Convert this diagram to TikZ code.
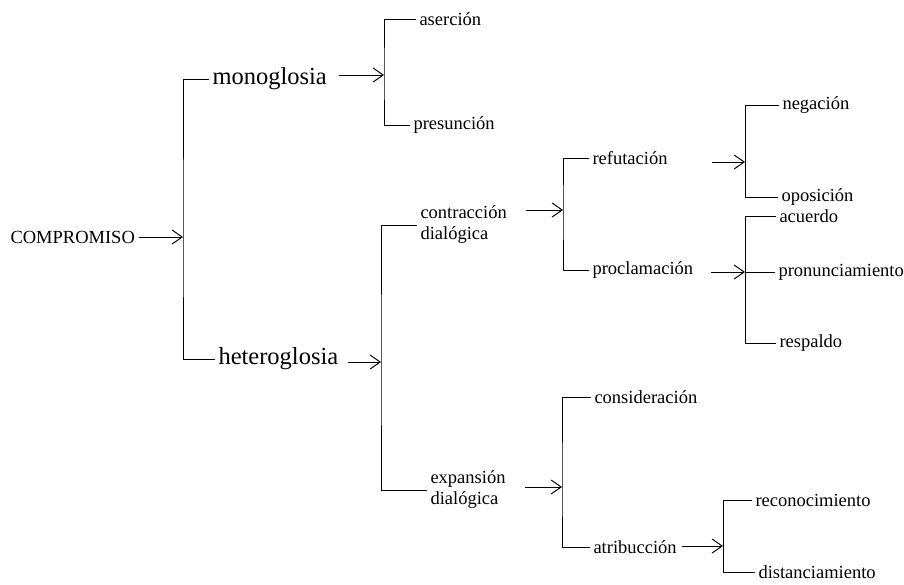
\documentclass[tikz,border=0pt]{standalone}
\usepackage{fontspec}
\setmainfont{Liberation Serif}
\usepackage{tikz}
\usetikzlibrary{arrows.meta}

\begin{document}
\begin{tikzpicture}[x=1pt, y=-1pt, line width=1pt,
    every node/.style={anchor=west, inner sep=3pt, font=\fontsize{18.5}{21}\selectfont},
    big/.style={font=\fontsize{24.5}{28}\selectfont},
    flecha/.style={-{Straight Barb[length=10pt, width=14pt]}}]
            \useasboundingbox (0,0) rectangle (904,584);
            % Nodos
            \node (comp) at (7,237) {COMPROMISO};
            \node[big] (mono) at (209,79) {monoglosia};
            \node[big] (hetero) at (215,359) {heteroglosia};
            \node (aser) at (416,19) {aserción};
            \node (presun) at (410,125) {presunción};
            \node[align=left] (contr) at (417,225) {contracción\\dialógica};
            \node[align=left] (expan) at (427,490) {expansión\\dialógica};
            \node (refut) at (589,158) {refutación};
            \node (procl) at (589,270) {proclamación};
            \node (neg) at (779,105) {negación};
            \node (opos) at (778,197) {oposición};
            \node (acuer) at (776,216) {acuerdo};
            \node (pronun) at (775,272) {pronunciamiento};
            \node (respal) at (776,343) {respaldo};
            \node (consid) at (591,397) {consideración};
            \node (atrib) at (590,547) {atribucción};
            \node (recon) at (752,500) {reconocimiento};
            \node (distan) at (755,572) {distanciamiento};

            % Llaves
            \coordinate (b0) at (183,237);
            \coordinate (b1) at (384,75);
            \coordinate (b2) at (381,362);
            \coordinate (b3) at (563,210);
            \coordinate (b4) at (745,162);
            \coordinate (b5) at (745,272);
            \coordinate (b6) at (562,487);
            \coordinate (b7) at (723,546);
            \draw (mono.west) -| (b0) |- (hetero.west);
            \draw (aser.west) -| (b1) |- (presun.west);
            \draw (contr.west) -| (b2) |- (expan.west);
            \draw (refut.west) -| (b3) |- (procl.west);
            \draw (neg.west) -| (b4) |- (opos.west);
            \draw (acuer.west) -| (b5) |- (respal.west);
            \draw (b5) -- (pronun.west);
            \draw (consid.west) -| (b6) |- (atrib.west);
            \draw (recon.west) -| (b7) |- (distan.west);

            % Flechas
            \draw[flecha, shorten <=1pt] (comp.east |- b0) -- (b0);
            \draw[flecha, shorten <=9pt] (mono.east |- b1) -- (b1);
            \draw[flecha, shorten <=6pt] (hetero.east |- b2) -- (b2);
            \draw[flecha, shorten <=16pt] (contr.east |- b3) -- (b3);
            \draw[flecha, shorten <=41pt] (refut.east |- b4) -- (b4);
            \draw[flecha, shorten <=14pt] (procl.east |- b5) -- (b5);
            \draw[flecha, shorten <=16pt] (expan.east |- b6) -- (b6);
            \draw[flecha, shorten <=2pt] (atrib.east |- b7) -- (b7);
          \end{tikzpicture}
\end{document}
